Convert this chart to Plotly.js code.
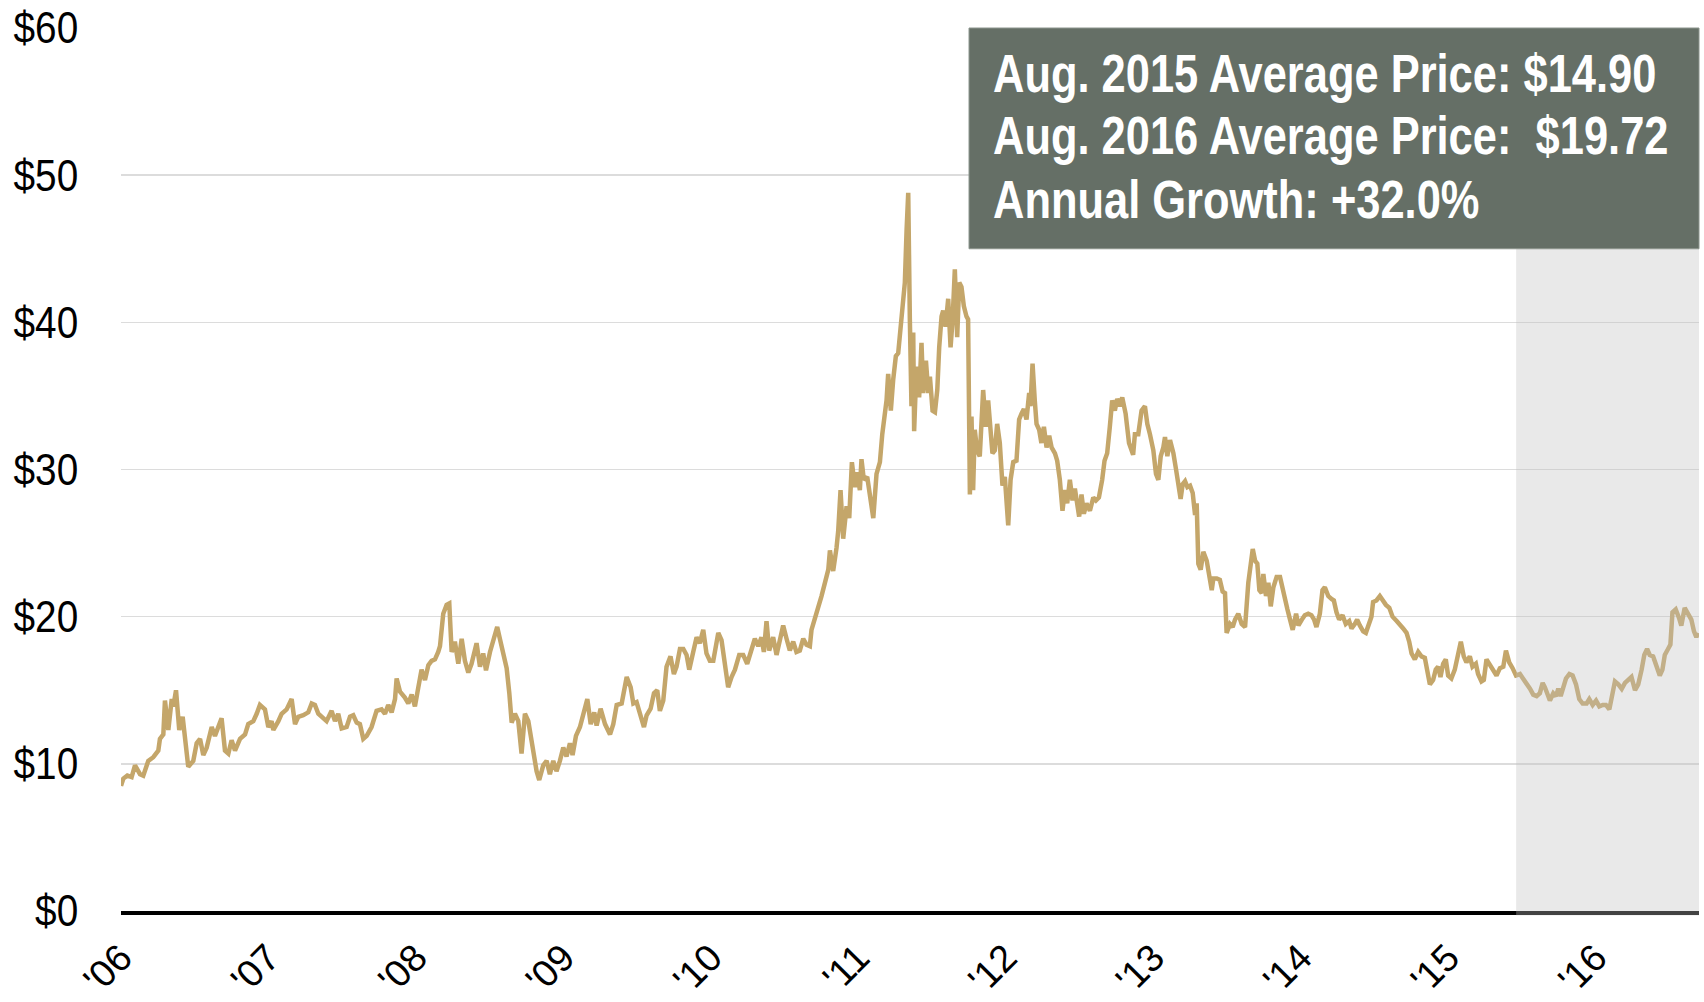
<!DOCTYPE html>
<html>
<head>
<meta charset="utf-8">
<script src="https://cdn.plot.ly/plotly-3.0.1.min.js"></script>
<style>
  html, body { margin: 0; padding: 0; background: #ffffff; }
  #chart { width: 1704px; height: 1002px; }
</style>
</head>
<body>
<div id="chart"></div>
<script>
// Silver price (USD/oz); x = decimal year
const year = [
  2006.000,2006.016,2006.043,2006.072,2006.095,2006.129,2006.151,2006.185,2006.219,2006.253,
  2006.264,2006.287,2006.298,2006.321,2006.344,2006.355,2006.373,2006.395,2006.418,2006.434,
  2006.456,2006.490,2006.513,2006.536,2006.558,2006.581,2006.615,2006.637,2006.660,2006.682,
  2006.705,2006.728,2006.750,2006.773,2006.807,2006.841,2006.863,2006.897,2006.920,2006.942,
  2006.976,2006.999,2007.021,2007.033,2007.067,2007.089,2007.123,2007.157,2007.180,2007.202,
  2007.236,2007.270,2007.293,2007.315,2007.338,2007.360,2007.394,2007.428,2007.451,2007.473,
  2007.496,2007.530,2007.553,2007.575,2007.598,2007.620,2007.643,2007.666,2007.699,2007.733,
  2007.767,2007.790,2007.812,2007.835,2007.858,2007.869,2007.892,2007.925,2007.948,2007.971,
  2007.993,2008.016,2008.038,2008.061,2008.084,2008.106,2008.129,2008.151,2008.163,2008.185,
  2008.208,2008.226,2008.242,2008.264,2008.287,2008.310,2008.332,2008.355,2008.377,2008.411,
  2008.434,2008.456,2008.475,2008.502,2008.524,2008.551,2008.569,2008.592,2008.615,2008.633,
  2008.649,2008.671,2008.694,2008.716,2008.739,2008.762,2008.784,2008.800,2008.818,2008.836,
  2008.863,2008.886,2008.908,2008.931,2008.953,2008.976,2008.999,2009.021,2009.044,2009.062,
  2009.085,2009.112,2009.135,2009.162,2009.185,2009.209,2009.225,2009.252,2009.282,2009.316,
  2009.338,2009.361,2009.395,2009.429,2009.456,2009.474,2009.496,2009.519,2009.546,2009.564,
  2009.591,2009.614,2009.636,2009.654,2009.677,2009.699,2009.726,2009.749,2009.767,2009.790,
  2009.813,2009.835,2009.853,2009.880,2009.903,2009.925,2009.948,2009.970,2009.993,2010.016,
  2010.050,2010.072,2010.095,2010.117,2010.140,2010.163,2010.192,2010.219,2010.246,2010.269,
  2010.298,2010.321,2010.343,2010.359,2010.377,2010.395,2010.422,2010.445,2010.468,2010.490,
  2010.513,2010.535,2010.558,2010.580,2010.603,2010.626,2010.648,2010.671,2010.682,2010.705,
  2010.727,2010.750,2010.773,2010.796,2010.807,2010.829,2010.852,2010.863,2010.879,2010.897,
  2010.920,2010.938,2010.956,2010.976,2010.992,2011.010,2011.021,2011.037,2011.060,2011.078,
  2011.101,2011.123,2011.146,2011.162,2011.180,2011.191,2011.202,2011.220,2011.236,2011.254,
  2011.270,2011.286,2011.299,2011.315,2011.327,2011.338,2011.349,2011.360,2011.372,2011.378,
  2011.394,2011.412,2011.428,2011.440,2011.458,2011.474,2011.485,2011.503,2011.519,2011.535,
  2011.548,2011.564,2011.575,2011.591,2011.609,2011.625,2011.639,2011.654,2011.670,2011.684,
  2011.699,2011.715,2011.733,2011.744,2011.756,2011.767,2011.778,2011.789,2011.805,2011.823,
  2011.846,2011.864,2011.880,2011.896,2011.909,2011.925,2011.941,2011.959,2011.977,2011.993,
  2012.016,2012.032,2012.050,2012.072,2012.090,2012.106,2012.122,2012.140,2012.158,2012.167,
  2012.181,2012.196,2012.208,2012.226,2012.241,2012.258,2012.276,2012.294,2012.310,2012.333,
  2012.348,2012.366,2012.384,2012.400,2012.416,2012.434,2012.452,2012.468,2012.484,2012.497,
  2012.513,2012.529,2012.547,2012.570,2012.593,2012.611,2012.631,2012.653,2012.669,2012.687,
  2012.705,2012.721,2012.739,2012.755,2012.773,2012.789,2012.812,2012.835,2012.863,2012.875,
  2012.898,2012.920,2012.943,2012.959,2012.977,2013.000,2013.018,2013.034,2013.050,2013.068,
  2013.079,2013.095,2013.113,2013.136,2013.154,2013.170,2013.185,2013.199,2013.215,2013.231,
  2013.249,2013.267,2013.283,2013.294,2013.305,2013.321,2013.339,2013.362,2013.380,2013.396,
  2013.407,2013.430,2013.451,2013.470,2013.486,2013.497,2013.520,2013.538,2013.554,2013.576,
  2013.599,2013.622,2013.644,2013.656,2013.674,2013.690,2013.705,2013.719,2013.735,2013.746,
  2013.764,2013.780,2013.796,2013.814,2013.836,2013.859,2013.877,2013.893,2013.909,2013.927,
  2013.945,2013.968,2013.984,2014.007,2014.027,2014.050,2014.072,2014.090,2014.106,2014.129,
  2014.147,2014.163,2014.186,2014.208,2014.224,2014.242,2014.260,2014.283,2014.305,2014.328,
  2014.344,2014.366,2014.382,2014.400,2014.423,2014.441,2014.463,2014.479,2014.490,2014.513,
  2014.536,2014.554,2014.577,2014.600,2014.622,2014.650,2014.671,2014.694,2014.717,2014.735,
  2014.751,2014.773,2014.796,2014.818,2014.841,2014.857,2014.875,2014.897,2014.915,2014.931,
  2014.947,2014.965,2014.983,2014.999,2015.021,2015.044,2015.067,2015.085,2015.105,2015.123,
  2015.146,2015.164,2015.187,2015.202,2015.225,2015.241,2015.259,2015.282,2015.305,2015.327,
  2015.350,2015.373,2015.391,2015.413,2015.436,2015.459,2015.486,2015.508,2015.531,2015.554,
  2015.576,2015.599,2015.621,2015.640,2015.655,2015.671,2015.689,2015.712,2015.730,2015.746,
  2015.762,2015.780,2015.798,2015.821,2015.843,2015.866,2015.888,2015.911,2015.938,2015.956,
  2015.979,2016.002,2016.024,2016.047,2016.069,2016.092,2016.108,2016.130,2016.153,2016.176,
  2016.198,2016.221,2016.242,2016.266,2016.288,2016.311,2016.329,2016.348,2016.366,2016.389,
  2016.411,2016.434,2016.452,2016.468,2016.490,2016.506,2016.520,2016.542,2016.565,2016.580,
  2016.603,2016.626,2016.648,2016.666,2016.682,2016.693
];
const price = [
  8.5,9.0,9.2,9.1,9.9,9.3,9.2,10.2,10.45,10.9,
  11.7,12.0,14.3,12.3,14.4,13.9,15.0,12.3,13.2,12.0,
  9.8,10.2,11.4,11.7,10.6,11.1,12.5,11.9,12.5,13.1,
  10.9,10.7,11.6,10.9,11.7,12.0,12.7,12.9,13.4,14.0,
  13.7,12.5,12.9,12.3,12.9,13.4,13.7,14.4,12.7,13.2,
  13.3,13.5,14.1,14.0,13.4,13.2,12.9,13.6,12.9,13.4,
  12.4,12.5,13.2,13.3,12.8,12.7,11.7,11.9,12.5,13.6,
  13.7,13.4,14.0,13.5,14.4,15.8,14.9,14.5,14.1,14.7,
  13.9,15.2,16.4,15.7,16.7,17.0,17.1,17.6,18.0,20.2,
  20.8,20.9,17.6,18.3,16.8,18.5,17.0,16.2,16.8,18.2,
  16.6,17.5,16.35,17.6,18.3,19.3,18.5,17.6,16.5,14.8,
  12.8,13.4,12.9,10.7,13.4,12.9,11.6,10.9,9.5,8.9,
  9.9,10.2,9.3,10.2,9.5,10.2,11.1,10.5,11.4,10.6,
  11.9,12.5,13.4,14.4,12.7,13.5,12.6,13.75,12.7,12.0,
  12.7,14.0,14.1,15.9,15.2,14.1,14.2,13.4,12.5,13.3,
  13.75,14.8,15.0,13.6,14.3,16.6,17.3,16.1,16.6,17.8,
  17.8,17.4,16.4,17.6,18.6,18.2,19.1,17.5,17.0,17.0,
  18.9,18.4,16.8,15.2,15.9,16.4,17.4,17.4,16.8,17.5,
  18.5,18.0,18.6,17.6,19.7,17.7,18.6,17.4,18.4,19.4,
  18.5,17.7,18.3,17.6,17.7,18.5,18.1,18.0,19.1,19.8,
  20.7,21.4,22.3,23.2,24.5,23.1,24.7,25.8,28.6,25.3,
  27.5,26.7,30.5,28.8,29.8,28.6,30.7,29.3,29.5,28.1,
  26.7,29.7,30.5,32.4,33.6,34.7,36.5,34.0,36.1,37.7,
  37.9,39.5,41.3,42.7,46.3,48.8,40.2,34.3,39.3,32.6,
  37.0,34.9,38.6,35.2,37.4,35.2,36.3,34.0,33.9,35.4,
  38.3,40.4,40.8,39.7,41.6,38.3,40.2,43.6,39.0,42.7,
  42.4,41.1,40.4,40.2,28.3,33.6,28.6,32.7,31.3,30.9,
  35.4,32.9,34.7,33.1,31.1,31.3,33.1,31.8,28.9,29.5,
  26.2,29.3,30.5,30.6,33.4,33.8,34.1,33.4,35.2,34.3,
  37.2,34.7,33.1,32.7,31.8,32.9,31.5,32.3,31.5,31.1,
  30.6,29.3,27.2,28.6,27.7,29.3,27.9,28.7,27.5,26.8,
  28.3,27.0,27.7,27.2,28.1,27.9,28.1,29.3,30.6,31.1,
  32.9,34.7,34.0,34.8,34.3,34.9,33.8,31.8,31.0,32.4,
  32.4,34.0,34.3,33.1,32.4,31.3,29.7,29.3,30.9,31.5,
  32.2,30.9,32.0,31.1,30.0,28.8,28.0,29.0,29.2,28.8,
  28.9,28.4,26.9,27.7,23.6,23.2,24.4,23.8,22.9,21.8,
  22.6,22.6,22.5,21.7,21.6,18.9,19.5,19.3,19.8,20.2,
  19.5,19.3,22.3,23.2,24.6,23.8,23.6,21.8,21.6,22.9,
  21.4,22.3,20.7,22.0,22.7,22.7,21.8,21.1,20.5,19.8,
  19.1,20.2,19.4,19.8,20.1,20.2,20.1,19.8,19.3,20.2,
  21.8,22.0,21.4,21.2,21.1,20.3,19.8,20.1,19.5,19.7,
  19.2,19.5,19.8,19.4,19.0,18.9,19.5,20.0,21.0,21.1,
  21.4,21.1,20.8,20.6,20.0,19.7,19.4,19.2,18.9,18.3,
  17.5,17.1,17.6,17.3,17.2,16.4,15.4,15.7,16.4,16.6,
  15.9,16.8,17.1,16.0,15.8,16.4,17.7,18.3,17.3,16.9,
  17.3,16.6,16.8,16.1,15.6,15.7,17.1,16.7,16.4,16.0,
  16.5,16.6,17.7,16.9,16.5,16.0,16.1,15.8,15.5,15.1,
  14.7,14.6,14.8,15.5,15.2,14.7,14.3,14.8,14.6,15.1,
  14.6,15.2,15.8,16.1,16.0,15.4,14.4,14.1,14.1,14.4,
  14.0,14.3,13.9,14.0,14.0,13.7,14.7,15.6,15.4,15.1,
  15.5,15.7,15.9,15.0,15.4,16.4,17.4,17.8,17.4,17.3,
  16.6,16.0,16.4,17.4,17.8,18.1,20.3,20.5,19.9,19.4,
  20.6,20.1,19.8,19.0,18.6,18.9
];

const tickYears  = [2006, 2007, 2008, 2009, 2010, 2011, 2012, 2013, 2014, 2015, 2016];
const tickLabels = ["'06", "'07", "'08", "'09", "'10", "'11", "'12", "'13", "'14", "'15", "'16"];
const priceTicks = [0, 10, 20, 30, 40, 50, 60];
const priceTickLabels = ["$0", "$10", "$20", "$30", "$40", "$50", "$60"];
const boxLines = [
  "Aug. 2015 Average Price: $14.90",
  "Aug. 2016 Average Price:\u00a0 $19.72",
  "Annual Growth: +32.0%"
];
const highlightStart = 2015.46;   // start of the shaded last-year window
const xEnd = 2016.70;

const FONT = '"Liberation Sans", Arial, sans-serif';

const trace = {
  type: 'scatter',
  mode: 'lines',
  x: year,
  y: price,
  line: { color: '#c4a66a', width: 4.5 },
  hoverinfo: 'skip'
};

const lineY = [0.949, 0.878, 0.806];

const layout = {
  width: 1704,
  height: 1002,
  margin: { l: 121, r: 5, t: 28, b: 91, pad: 0 },
  paper_bgcolor: '#ffffff',
  plot_bgcolor: '#ffffff',
  showlegend: false,
  font: { family: FONT, color: '#000000' },
  xaxis: {
    type: 'linear',
    range: [2006, xEnd],
    tickvals: tickYears,
    ticktext: tickLabels,
    tickangle: -45,
    tickfont: { family: FONT, size: 38, color: '#000000' },
    ticks: 'outside',
    ticklen: 5,
    tickcolor: 'rgba(0,0,0,0)',
    showgrid: false,
    zeroline: false,
    showline: true,
    linecolor: '#000000',
    linewidth: 4,
    fixedrange: true
  },
  yaxis: {
    range: [0, 60],
    tickvals: priceTicks,
    ticktext: priceTickLabels,
    tickfont: { family: FONT, size: 44, color: '#000000' },
    ticks: 'outside',
    ticklen: 33,
    tickcolor: 'rgba(0,0,0,0)',
    showgrid: true,
    gridcolor: '#dcdcdc',
    gridwidth: 1.5,
    zeroline: false,
    showline: false,
    fixedrange: true
  },
  shapes: [
    {
      type: 'rect', layer: 'above',
      xref: 'x', yref: 'paper',
      x0: highlightStart, x1: xEnd, y0: -0.005, y1: 1,
      fillcolor: 'rgba(193,193,193,0.35)',
      line: { width: 0 }
    },
    {
      type: 'rect', layer: 'above',
      xref: 'paper', yref: 'paper',
      x0: 0.5374, x1: 1.0, y0: 0.75, y1: 1.0,
      fillcolor: '#656f66',
      line: { color: '#8c958d', width: 1 }
    }
  ],
  annotations: boxLines.map((t, i) => ({
    xref: 'paper', yref: 'paper',
    x: 0.5513, y: lineY[i],
    xanchor: 'left', yanchor: 'middle', align: 'left',
    text: '<b>' + t + '</b>',
    showarrow: false,
    font: { family: FONT, size: 53, color: '#ffffff' }
  }))
};

const Y_LABEL_CONDENSE = 0.88;
const BOX_TEXT_CONDENSE = 0.82;

Plotly.newPlot('chart', [trace], layout, { staticPlot: true, displayModeBar: false })
  .then(function () {
    // narrow typeface look for the price labels
    document.querySelectorAll('.ytick text').forEach(function (t) {
      var w = t.getComputedTextLength();
      if (w > 0) {
        t.setAttribute('textLength', (w * Y_LABEL_CONDENSE).toFixed(1));
        t.setAttribute('lengthAdjust', 'spacingAndGlyphs');
      }
    });
    // condensed bold lines in the box: scale horizontally about their left edge
    document.querySelectorAll('.annotation-text').forEach(function (t) {
      var b = t.getBBox();
      var f = BOX_TEXT_CONDENSE;
      var prev = t.getAttribute('transform') || '';
      t.setAttribute('transform',
        (prev + ' translate(' + (b.x * (1 - f)).toFixed(2) + ',0) scale(' + f + ',1)').trim());
    });
  });
</script>
</body>
</html>
